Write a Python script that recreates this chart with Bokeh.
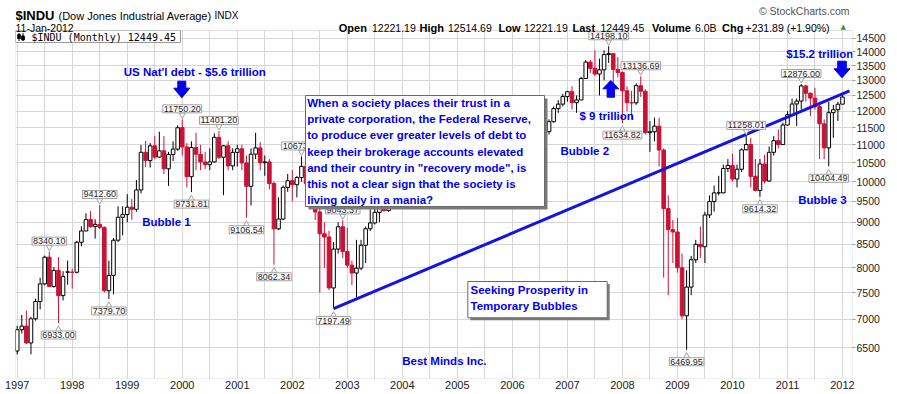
import math
from bokeh.plotting import figure
from bokeh.models import (Range1d, FixedTicker, Label, BoxAnnotation,
                          ColumnDataSource, PrintfTickFormatter, CustomJSTickFormatter)
from bokeh.embed import file_html
from bokeh.resources import INLINE

# ------------------------------------------------------------------ data
first_year = 1997
year_ticks = list(range(1997, 2013))
price_ticks = [6500, 7000, 7500, 8000, 8500, 9000, 9500, 10000, 10500, 11000,
               11500, 12000, 12500, 13000, 13500, 14000, 14500]
prev_close_dec_1996 = 6448.27

# monthly candles Jan 1997 .. Jan 2012 (Dow Jones Industrial Average)
opens = [
    6448, 6813, 6878, 6584, 7009, 7331, 7673, 8223, 7622, 7945, 7443, 7915,            # 1997
    7908, 7907, 8546, 8800, 9063, 8900, 8952, 8883, 7539, 7843, 8592, 9117,            # 1998
    9181, 9359, 9307, 9786, 10789, 10560, 10971, 10655, 10829, 10337, 10729, 10878,    # 1999
    11501, 10940, 10128, 10922, 10734, 10522, 10448, 10522, 11215, 10651, 10971, 10415,  # 2000
    10787, 10887, 10495, 9879, 10735, 10912, 10502, 10523, 9950, 8848, 9075, 9852,     # 2001
    10022, 9920, 10106, 10404, 9946, 9925, 9243, 8737, 8664, 7592, 8397, 8896,         # 2002
    8342, 8054, 7891, 7992, 8480, 8850, 8985, 9234, 9416, 9275, 9801, 9782,            # 2003
    10454, 10488, 10584, 10358, 10226, 10188, 10435, 10140, 10174, 10080, 10027, 10428,  # 2004
    10783, 10490, 10766, 10504, 10193, 10467, 10275, 10641, 10482, 10569, 10440, 10806,  # 2005
    10718, 10865, 10993, 11109, 11367, 11168, 11150, 11186, 11381, 11679, 12081, 12222,  # 2006
    12463, 12622, 12269, 12354, 13063, 13628, 13409, 13212, 13358, 13896, 13930, 13372,  # 2007
    13262, 12650, 12266, 12263, 12820, 12638, 11350, 11378, 11544, 10851, 9325, 8829,  # 2008
    8776, 8001, 7063, 7609, 8168, 8500, 8447, 9172, 9496, 9712, 9713, 10345,           # 2009
    10428, 10067, 10325, 10857, 11009, 10137, 9774, 10466, 10015, 10788, 11118, 11006,  # 2010
    11578, 11892, 12226, 12320, 12811, 12570, 12414, 12143, 11614, 10913, 11955, 12046,  # 2011
    12221.19,                                                                           # 2012
]
highs = [
    6883, 7079, 7158, 7045, 7384, 7796, 8254, 8340.10, 8013, 8226, 7929, 8150,
    7982, 8580, 8906, 9211, 9268, 9069, 9412.60, 8900, 8150, 8640, 9380, 9380,
    9680, 9560, 10040, 11000, 11110, 11050, 11250, 11380, 11250, 10800, 11100, 11570,
    11750.20, 11050, 11100, 11350, 11000, 10800, 10900, 11330, 11401.20, 10990, 11100, 10900,
    11000, 11000, 10700, 10900, 11350, 11075, 10700, 10600, 10000, 9600, 9900, 10200,
    10300, 10150, 10673.10, 10450, 10400, 9950, 9400, 9000, 8800, 8550, 9000, 9043.37,
    8870, 8150, 8600, 8600, 8900, 9350, 9350, 9450, 9700, 9900, 9900, 10470,
    10760, 10750, 10700, 10600, 10300, 10500, 10450, 10300, 10300, 10200, 10600, 10860,
    10850, 10850, 10980, 10600, 10550, 10650, 10720, 10720, 10700, 10600, 10900, 10950,
    11050, 11150, 11350, 11450, 11670, 11250, 11250, 11450, 11750, 12150, 12350, 12550,
    12650, 12800, 12500, 13120, 13700, 13700, 14050, 13750, 14050, 14198.10, 13950, 13800,
    13300, 12800, 12650, 12900, 13136.69, 12700, 11700, 11800, 11800, 10900, 9650, 9050,
    9100, 8300, 7950, 8250, 8600, 8900, 9250, 9650, 9900, 10150, 10450, 10600,
    10750, 10450, 10900, 11258.01, 11200, 10600, 10600, 10720, 10950, 11250, 11450, 11650,
    12000, 12400, 12400, 12876.00, 12850, 12600, 12750, 12300, 11750, 12300, 12200, 12300,
    12514.69,
]
lows = [
    6391, 6748, 6570, 6392, 6975, 7183, 7643, 7622, 7595, 6933.00, 7350, 7655,
    7580, 7884, 8458, 8800, 8873, 8627, 8842, 7500, 7379.70, 7467, 8550, 8700,
    9000, 9060, 9250, 9700, 10380, 10370, 10600, 10640, 10200, 9888, 10550, 10830,
    10700, 9850, 9731.81, 10300, 10300, 10330, 10300, 10500, 10600, 9654, 10300, 10300,
    10400, 10300, 9106.54, 9400, 10600, 10300, 10150, 9800, 8062.34, 8820, 9050, 9740,
    9500, 9600, 10000, 9870, 9800, 9050, 7500, 8000, 7550, 7197.49, 8300, 8200,
    7990, 7650, 7416, 7950, 8100, 8800, 8950, 9000, 9250, 9250, 9500, 9700,
    10400, 10450, 10000, 10200, 9850, 10100, 9900, 9800, 10000, 9700, 10000, 10350,
    10350, 10400, 10400, 10000, 10100, 10250, 10250, 10400, 10350, 10160, 10400, 10650,
    10650, 10700, 10900, 11000, 11050, 10700, 10700, 11050, 11300, 11650, 11950, 12150,
    12300, 12050, 11950, 12350, 13050, 13250, 13150, 12500, 13000, 13600, 12700, 13100,
    11634.82, 12000, 11750, 12200, 12450, 11300, 10800, 11100, 10400, 7800, 7450, 8100,
    7900, 7000, 6469.95, 7450, 8100, 8200, 8100, 9100, 9250, 9650, 9700, 10250,
    10000, 9850, 10250, 10850, 9850, 9750, 9614.32, 9950, 10000, 10700, 10900, 11000,
    11550, 11850, 11550, 12050, 12300, 11850, 12050, 10600, 10600, 10404.49, 11200, 11700,
    12221.19,
]
closes = [
    6813, 6878, 6584, 7009, 7331, 7673, 8223, 7622, 7945, 7443, 7823, 7908,
    7907, 8546, 8800, 9063, 8900, 8952, 8883, 7539, 7843, 8592, 9117, 9181,
    9359, 9307, 9786, 10789, 10560, 10971, 10655, 10829, 10337, 10729, 10878, 11497,
    10940, 10128, 10922, 10734, 10522, 10448, 10522, 11215, 10651, 10971, 10415, 10787,
    10887, 10495, 9879, 10735, 10912, 10502, 10523, 9950, 8848, 9075, 9852, 10022,
    9920, 10106, 10404, 9946, 9925, 9243, 8737, 8664, 7592, 8397, 8896, 8342,
    8054, 7891, 7992, 8480, 8850, 8985, 9234, 9416, 9275, 9801, 9782, 10454,
    10488, 10584, 10358, 10226, 10188, 10435, 10140, 10174, 10080, 10027, 10428, 10783,
    10490, 10766, 10504, 10193, 10467, 10275, 10641, 10482, 10569, 10440, 10806, 10718,
    10865, 10993, 11109, 11367, 11168, 11150, 11186, 11381, 11679, 12081, 12222, 12463,
    12622, 12269, 12354, 13063, 13628, 13409, 13212, 13358, 13896, 13930, 13372, 13265,
    12650, 12266, 12263, 12820, 12638, 11350, 11378, 11544, 10851, 9325, 8829, 8776,
    8001, 7063, 7609, 8168, 8500, 8447, 9172, 9496, 9712, 9713, 10345, 10428,
    10067, 10325, 10857, 11009, 10137, 9774, 10466, 10015, 10788, 11118, 11006, 11578,
    11892, 12226, 12320, 12811, 12570, 12414, 12143, 11614, 10913, 11955, 12046, 12218,
    12449.45,
]

# annotated swing points: (year, month, which)
swing_points = [
    (1997, 8, "high"), (1997, 10, "low"), (1998, 7, "high"), (1998, 9, "low"),
    (2000, 1, "high"), (2000, 3, "low"), (2000, 9, "high"), (2001, 3, "low"),
    (2001, 9, "low"), (2002, 3, "high"), (2002, 10, "low"), (2002, 12, "high"),
    (2007, 10, "high"), (2008, 1, "low"), (2008, 5, "high"), (2009, 3, "low"),
    (2010, 4, "high"), (2010, 7, "low"), (2011, 4, "high"), (2011, 10, "low"),
]

# trend line: from the Oct 2002 low to the right edge
trend_start = (2002, 10)
trend_end_value = 12650

header_items = [("Open", "12221.19"), ("High", "12514.69"), ("Low", "12221.19"),
                ("Last", "12449.45"), ("Volume", "6.0B"), ("Chg", "+231.89 (+1.90%)")]

box_text = ["When a society places their trust in a",
            "private corporation, the Federal Reserve,",
            "to produce ever greater levels of debt to",
            "keep their brokerage accounts elevated",
            "and their country in \"recovery mode\", is",
            "this not a clear sign that the society is",
            "living daily in a mania?"]
box2_text = ["Seeking Prosperity in", "Temporary Bubbles"]

# ------------------------------------------------------------------ layout helpers
W, H = 897, 394
FRAME_L, FRAME_R, FRAME_T, FRAME_B = 15, 852, 30, 378      # visible chart box, page pixels
PX_PER_MONTH = 4.585
PX_FIRST = 16.7
Y_TOP, Y_BOT = 14790.0, 6005.0                              # values at FRAME_T / FRAME_B
K = (FRAME_B - FRAME_T) / math.log(Y_TOP / Y_BOT)


def mx(px):
    return (px - PX_FIRST) / PX_PER_MONTH


def vy(py):
    return Y_TOP * math.exp(-(py - FRAME_T) / K)


RED = "#cc1136"
BLUE = "#0000f0"
FONT = "Liberation Sans"
GRID = "#d6d6d6"
EDGE = "#9a9a9a"

# the Bokeh frame spans the full height (header lives inside it, covered white)
p = figure(width=W, height=H, y_axis_type="log", y_axis_location="right",
           x_range=Range1d(mx(FRAME_L), mx(FRAME_R)), y_range=Range1d(Y_BOT, vy(0)),
           output_backend="svg", toolbar_location=None,
           min_border_left=FRAME_L, min_border_right=W - FRAME_R,
           min_border_top=0, min_border_bottom=H - FRAME_B)
p.outline_line_color = None
p.background_fill_color = "white"

# axes
p.xaxis.ticker = FixedTicker(ticks=[(y - first_year) * 12 for y in year_ticks])
p.xaxis.formatter = CustomJSTickFormatter(args=dict(y0=first_year),
                                          code="return String(y0 + Math.round(tick / 12));")
p.yaxis.ticker = FixedTicker(ticks=price_ticks)
p.yaxis.formatter = PrintfTickFormatter(format="%d")
for ax in (p.xaxis, p.yaxis):
    ax.axis_line_color = None
    ax.major_tick_line_color = EDGE
    ax.minor_tick_line_color = None
    ax.major_tick_in = 0
    ax.major_label_text_font = FONT
    ax.major_label_text_color = "#222222"
p.xaxis.major_tick_out = 0
p.xaxis.major_label_standoff = 2
p.xaxis.major_label_text_font_size = "11px"
p.yaxis.major_tick_out = 3
p.yaxis.major_label_standoff = 1
p.yaxis.major_label_text_font_size = "10.5px"

p.xgrid.ticker = FixedTicker(ticks=list(range(0, len(closes) + 1, 6)))
p.ygrid.ticker = FixedTicker(ticks=price_ticks)
p.xgrid.grid_line_color = GRID
p.ygrid.grid_line_color = GRID

# candles
idx = list(range(len(closes)))
prev = [prev_close_dec_1996] + closes[:-1]
line_col = [RED if c < pc else "black" for c, pc in zip(closes, prev)]
fill_col = [lc if c < o else "white" for lc, c, o in zip(line_col, closes, opens)]
src = ColumnDataSource(dict(x=idx, o=opens, h=highs, l=lows, c=closes,
                            top=[max(o, c) for o, c in zip(opens, closes)],
                            bot=[min(o, c) for o, c in zip(opens, closes)],
                            lc=line_col, fc=fill_col))
p.segment(x0="x", y0="l", x1="x", y1="h", line_color="lc", line_width=1, source=src)
p.vbar(x="x", width=0.78, top="top", bottom="bot", fill_color="fc", line_color="lc",
       line_width=1, source=src)

# trend line
m0 = (trend_start[0] - first_year) * 12 + trend_start[1] - 1
p.line([m0, mx(849)], [lows[m0], trend_end_value], line_color="#1414e0", line_width=3)


# block arrows (patches)
def arrow(cx, y_tail, y_base, y_tip, sh=4, hh=8):
    xs = [cx - sh, cx + sh, cx + sh, cx + hh, cx, cx - hh, cx - sh]
    ys = [y_tail, y_tail, y_base, y_base, y_tip, y_base, y_base]
    p.patch([mx(x) for x in xs], [vy(y) for y in ys], fill_color=BLUE, line_color=BLUE)


arrow(181.3, 80.7, 87.7, 97.3)
arrow(610.3, 96.7, 88.3, 80.0, sh=3.7)
arrow(841.5, 60.7, 68.3, 77.3, sh=4.3)

# legend box (top-left)
p.quad(left=[mx(15)], right=[mx(180)], top=[vy(30)], bottom=[vy(42)],
       fill_color="white", line_color=EDGE)
p.segment(x0=[mx(18.5), mx(22.5)], y0=[vy(32.5), vy(32.5)], x1=[mx(18.5), mx(22.5)],
          y1=[vy(40.5), vy(40.5)], line_color="black", line_width=1)
p.quad(left=[mx(17.2), mx(21.2)], right=[mx(19.8), mx(23.8)], top=[vy(34), vy(35.5)],
       bottom=[vy(38), vy(39.5)], fill_color="black", line_color="black")

# value-label notches
nx, ny, nmark = [], [], []
for (yy, mm, kind) in swing_points:
    m = (yy - first_year) * 12 + mm - 1
    v = highs[m] if kind == "high" else lows[m]
    nx.append(m)
    ny.append(v * math.exp(4.5 / K) if kind == "high" else v * math.exp(-6.5 / K))
    nmark.append("inverted_triangle" if kind == "high" else "triangle")
p.scatter(x=nx, y=ny, marker=nmark, size=6, fill_color="white", line_color="#a0a0a0")

# white header band above the chart box, and the chart box outline
p.add_layout(BoxAnnotation(bottom=vy(FRAME_T), fill_color="white", fill_alpha=1, line_color=None))
p.add_layout(BoxAnnotation(top=vy(FRAME_T), fill_alpha=0, line_color=EDGE, line_width=1))


def label(text, px, py, size, color=BLUE, bold=True, align="left", baseline="middle", font=FONT):
    p.add_layout(Label(x=mx(px), y=vy(py), text=text, text_font=font,
                       text_font_size=f"{size}px",
                       text_font_style="bold" if bold else "normal",
                       text_color=color, text_align=align, text_baseline=baseline))


# swing value labels
for (yy, mm, kind) in swing_points:
    m = (yy - first_year) * 12 + mm - 1
    v = highs[m] if kind == "high" else lows[m]
    ly = v * math.exp(10.5 / K) if kind == "high" else v * math.exp(-12 / K)
    p.add_layout(Label(x=m, y=ly, text=f"{v:.2f}", text_font=FONT, text_font_size="9px",
                       text_color="#222222", text_align="center", text_baseline="middle",
                       background_fill_color="white", border_line_color="#a0a0a0",
                       padding=1))

# text boxes with shadows
for (l, r, t, b, sh) in [(305, 544, 95, 206, 3), (467.3, 606.7, 281, 317.3, 2.5)]:
    p.add_layout(BoxAnnotation(left=mx(l + sh), right=mx(r + sh), top=vy(t + sh), bottom=vy(b + sh),
                               fill_color="#7a7a7a", fill_alpha=1, line_color=None))
    p.add_layout(BoxAnnotation(left=mx(l), right=mx(r), top=vy(t), bottom=vy(b),
                               fill_color="white", fill_alpha=1, line_color="#6a6a6a",
                               line_width=1, line_alpha=1))

for i, line in enumerate(box_text):
    label(line, 306.7, 102.7 + 16.1 * i, 11.5)
for i, line in enumerate(box2_text):
    label(line, 470, 289.3 + 16 * i, 11.5)

# blue annotations
label("US Nat'l debt - $5.6 trillion", 123.3, 71, 11.5)
label("Bubble 1", 141.7, 221.7, 11.5)
label("Bubble 2", 560, 150, 11.5)
label("$ 9 trillion", 579, 115.7, 11.5)
label("$15.2 trillion", 785.7, 53.3, 11.5)
label("Bubble 3", 797.7, 199, 11.5)
label("Best Minds Inc.", 401.7, 360, 11.5)

# legend text
label("$INDU (Monthly) 12449.45", 31, 36.5, 10, color="black", bold=False, font="DejaVu Sans Mono")

# header
label("$INDU", 15, 15, 13, color="black", bold=True, baseline="alphabetic")
label("(Dow Jones Industrial Average)", 58, 15, 11, color="black", bold=False, baseline="alphabetic")
label("INDX", 214, 15, 10, color="black", bold=False, baseline="alphabetic")
label("11-Jan-2012", 15, 27, 10.5, color="black", bold=False, baseline="alphabetic")

header_x = [(338.3, 371.5), (419, 447.5), (498, 523.5), (572, 600),
            (651.5, 694.5), (721.5, 745)]
for (name, val), (x1, x2) in zip(header_items, header_x):
    label(name, x1, 27, 11, color="black", bold=True, baseline="alphabetic")
    label(val, x2, 27, 10.5, color="black", bold=False, baseline="alphabetic")
label("\u25b2", 840, 26, 7, color="#2e9a2e", bold=False, baseline="alphabetic", font="DejaVu Sans")
label("\u00a9 StockCharts.com", 849, 10.5, 10.5, color="#555555", bold=False, align="right")

open("out.html", "w").write(file_html(p, INLINE))
